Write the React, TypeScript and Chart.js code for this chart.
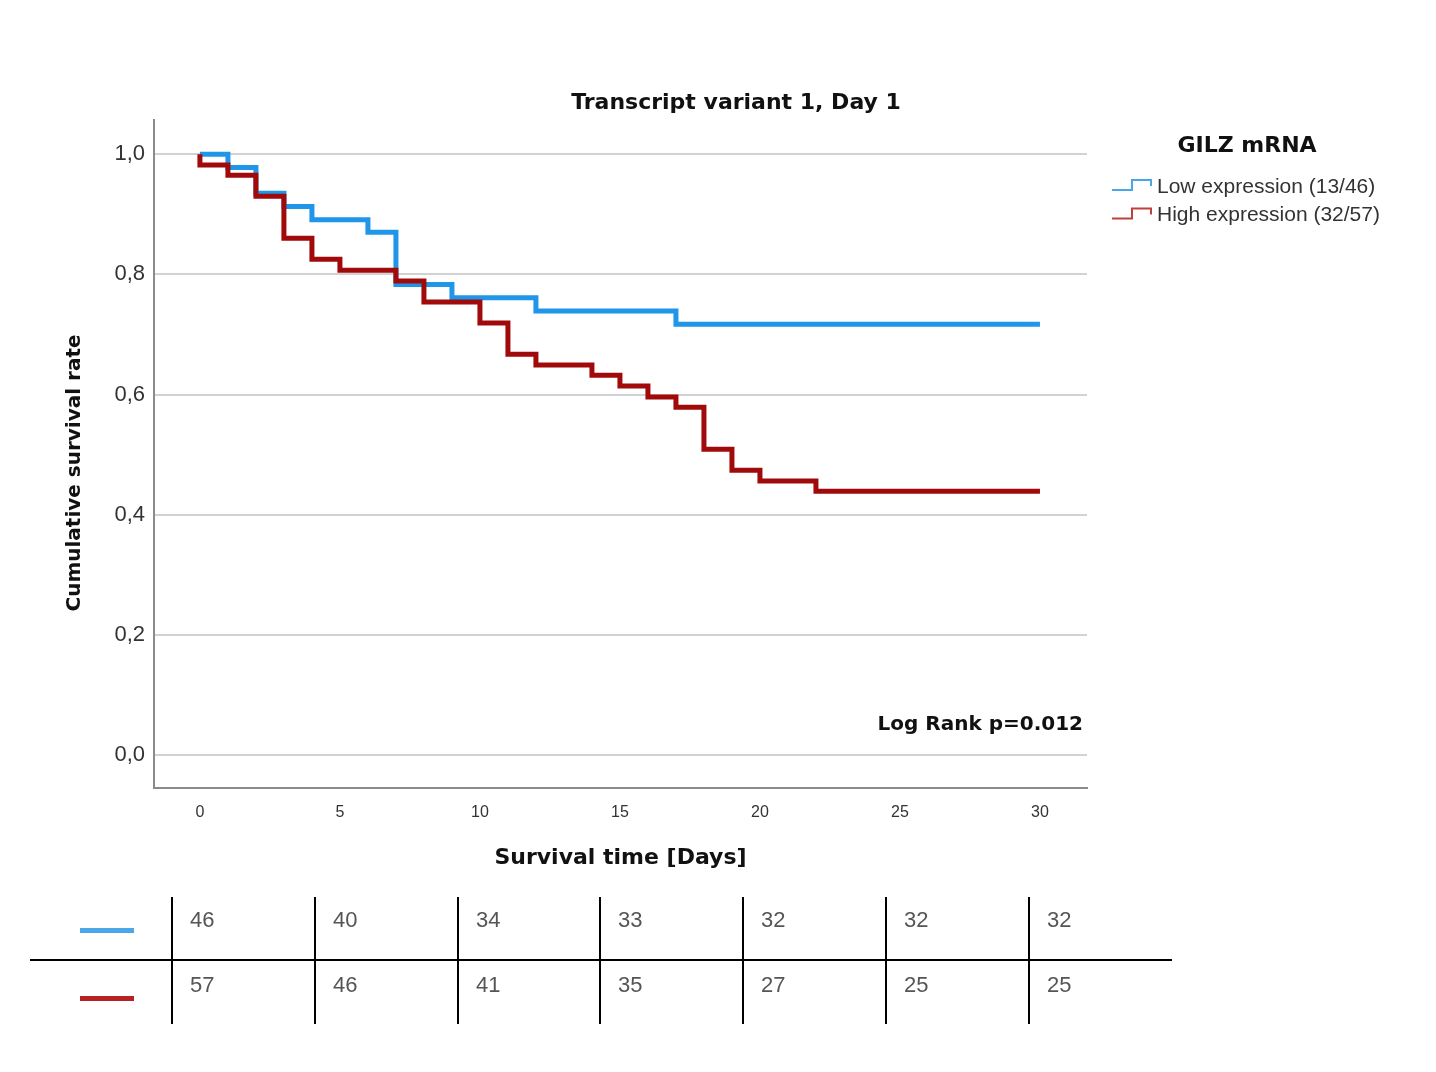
import React, { useEffect, useRef } from "react";
import { Chart, registerables } from "chart.js";

Chart.register(...registerables);

// ---------- data ----------
const lowDays = [0, 1, 2, 3, 4, 6, 7, 9, 12, 17, 30];
const lowSurvival = [1.0, 0.978, 0.935, 0.913, 0.891, 0.87, 0.783, 0.761, 0.739, 0.717, 0.717];
const highDays = [0, 0, 1, 2, 3, 4, 5, 7, 8, 10, 11, 12, 14, 15, 16, 17, 18, 19, 20, 22, 30];
const highSurvival = [
  1.0, 0.982, 0.965, 0.93, 0.86, 0.825, 0.807, 0.789, 0.754, 0.719, 0.667, 0.649, 0.632, 0.614,
  0.596, 0.579, 0.509, 0.474, 0.456, 0.439, 0.439,
];
const seriesLabels = ["Low expression (13/46)", "High expression (32/57)"];
const xTicks = [0, 5, 10, 15, 20, 25, 30];
const yTicks = [0, 0.2, 0.4, 0.6, 0.8, 1.0];
const atRiskLow = [46, 40, 34, 33, 32, 32, 32];
const atRiskHigh = [57, 46, 41, 35, 27, 25, 25];

const chartTitle = "Transcript variant 1, Day 1";
const yTitle = "Cumulative survival rate";
const xTitle = "Survival time [Days]";
const legendTitle = "GILZ mRNA";
const logRankText = "Log Rank p=0.012";

// ---------- styles ----------
const lineColors = ["#1F96E8", "#A10A0A"];
const legendColors = ["#4AA6E6", "#C0403C"];
const tableColors = ["#4AA8E8", "#B52222"];
const FONT = '"Liberation Sans", Arial, Helvetica, sans-serif';
const BOLD_FONT = '"DejaVu Sans", Verdana, sans-serif';

const W = 1436;
const H = 1072;

const annotationPlugin = {
  id: "annotations",
  afterDraw(chart: any) {
    const ctx = chart.ctx as CanvasRenderingContext2D;
    ctx.save();
    ctx.fillStyle = "#111";
    ctx.textBaseline = "middle";

    // title
    ctx.textAlign = "center";
    ctx.font = `bold 22px ${BOLD_FONT}`;
    ctx.fillText(chartTitle, 736, 103);

    // y title
    ctx.save();
    ctx.translate(75, 473);
    ctx.rotate(-Math.PI / 2);
    ctx.font = `bold 20px ${BOLD_FONT}`;
    ctx.fillText(yTitle, 0, 0);
    ctx.restore();

    // log rank
    ctx.textAlign = "right";
    ctx.font = `bold 20px ${BOLD_FONT}`;
    ctx.fillText(logRankText, chart.chartArea.right - 4, 725);

    // legend
    ctx.textAlign = "center";
    ctx.font = `bold 22px ${BOLD_FONT}`;
    ctx.fillText(legendTitle, 1247, 146);

    ctx.textAlign = "left";
    ctx.font = `21px ${FONT}`;
    seriesLabels.forEach((label, i) => {
      const y = 187 + i * 28.5;
      ctx.strokeStyle = legendColors[i];
      ctx.lineWidth = 2;
      ctx.beginPath();
      ctx.moveTo(1112, y + 3);
      ctx.lineTo(1132, y + 3);
      ctx.lineTo(1132, y - 7);
      ctx.lineTo(1151, y - 7);
      ctx.lineTo(1151, y - 1);
      ctx.stroke();
      ctx.fillStyle = "#333";
      ctx.fillText(label, 1157, y);
    });
    ctx.restore();
  },
};

export default function App() {
  const canvasRef = useRef<HTMLCanvasElement | null>(null);

  useEffect(() => {
    if (!canvasRef.current) return;
    Chart.defaults.font.family = FONT;
    const chart = new Chart(canvasRef.current, {
      type: "line",
      data: {
        datasets: [
          {
            label: seriesLabels[0],
            data: lowDays.map((d, i) => ({ x: d, y: lowSurvival[i] })),
            borderColor: lineColors[0],
            backgroundColor: lineColors[0],
            borderWidth: 5,
            stepped: true,
            pointRadius: 0,
            fill: false,
            borderJoinStyle: "miter",
            borderCapStyle: "butt",
            order: 1,
          },
          {
            label: seriesLabels[1],
            data: highDays.map((d, i) => ({ x: d, y: highSurvival[i] })),
            borderColor: lineColors[1],
            backgroundColor: lineColors[1],
            borderWidth: 5,
            stepped: true,
            pointRadius: 0,
            fill: false,
            borderJoinStyle: "miter",
            borderCapStyle: "butt",
            order: 0,
          },
        ],
      },
      options: {
        animation: false,
        responsive: false,
        devicePixelRatio: 1,
        layout: { padding: { left: 0, top: 120, right: W - 1087, bottom: H - 788 - 87 } },
        plugins: {
          legend: { display: false },
          title: { display: false },
          tooltip: { enabled: false },
        },
        scales: {
          x: {
            type: "linear",
            min: -1.64,
            max: 31.68,
            afterBuildTicks: (scale: any) => {
              scale.ticks = xTicks.map((v) => ({ value: v }));
            },
            afterFit: (scale: any) => {
              scale.height = 87;
            },
            grid: { display: false, drawTicks: false },
            border: { display: true, color: "#8a8a8a", width: 2 },
            ticks: {
              padding: 15,
              color: "#333",
              font: { size: 16, family: FONT },
              maxRotation: 0,
              autoSkip: false,
            },
            title: {
              display: true,
              text: xTitle,
              color: "#111",
              font: { size: 22, weight: "bold", family: BOLD_FONT },
              padding: { top: 4, bottom: 4 },
            },
          },
          y: {
            type: "linear",
            min: -0.055,
            max: 1.057,
            afterBuildTicks: (scale: any) => {
              scale.ticks = yTicks.map((v) => ({ value: v }));
            },
            afterFit: (scale: any) => {
              scale.width = 154;
            },
            grid: { display: true, color: "#d2d2d2", lineWidth: 2, drawTicks: false },
            border: { display: true, color: "#8a8a8a", width: 2 },
            ticks: {
              padding: 9,
              color: "#333",
              font: { size: 22, family: FONT },
              callback: (v: any) => Number(v).toFixed(1).replace(".", ","),
            },
          },
        },
      },
      plugins: [annotationPlugin],
    } as any);
    return () => chart.destroy();
  }, []);

  const colStart = 172;
  const colStep = 142.8;
  const rows = [atRiskLow, atRiskHigh];
  const rowCenters = [920, 985];
  const dashY = [930, 998];

  return (
    <div style={{ position: "absolute", left: 0, top: 0, width: W, height: H, background: "#fff", overflow: "hidden" }}>
      <canvas ref={canvasRef} width={W} height={H} style={{ position: "absolute", left: 0, top: 0 }} />
      {/* number at risk table */}
      <div style={{ position: "absolute", left: 30, top: 959, width: 1142, height: 2, background: "#000" }} />
      {atRiskLow.map((_, c) => (
        <div
          key={"v" + c}
          style={{ position: "absolute", left: Math.round(colStart + c * colStep) - 1, top: 897, width: 2, height: 127, background: "#000" }}
        />
      ))}
      {rows.map((row, r) => (
        <React.Fragment key={"r" + r}>
          <div style={{ position: "absolute", left: 80, top: dashY[r] - 2, width: 54, height: 5, background: tableColors[r] }} />
          {row.map((n, c) => (
            <div
              key={c}
              style={{
                position: "absolute",
                left: Math.round(colStart + c * colStep) + 18,
                top: rowCenters[r] - 13,
                height: 26,
                lineHeight: "26px",
                fontFamily: FONT,
                fontSize: 22,
                color: "#555",
              }}
            >
              {n}
            </div>
          ))}
        </React.Fragment>
      ))}
    </div>
  );
}
